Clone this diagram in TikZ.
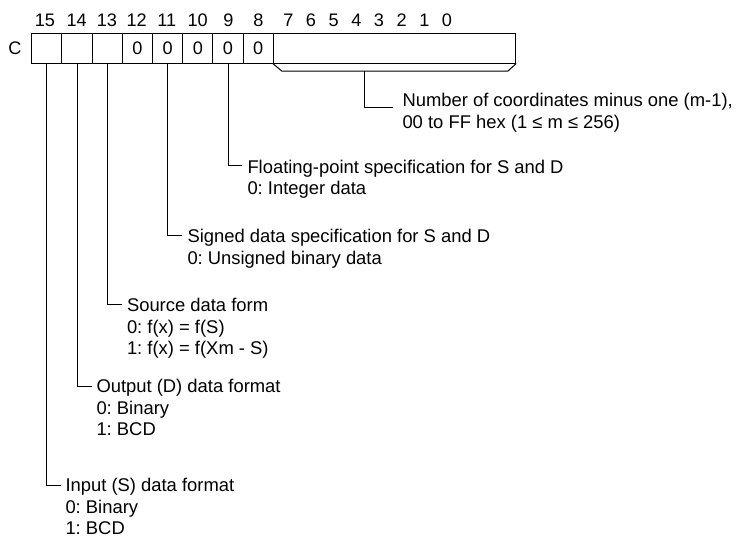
\documentclass[tikz,border=0pt]{standalone}
\usepackage{fontspec}
\setmainfont{Liberation Sans}
\usetikzlibrary{positioning}
\frenchspacing

\begin{document}
\begin{tikzpicture}[x=0.75pt, y=-0.75pt, line width=0.75pt,
  cell/.style={draw, minimum width=22.65pt, minimum height=22.5pt, inner sep=0pt, font=\fontsize{13.6}{16}\selectfont},
  bitno/.style={inner sep=0pt, font=\fontsize{13.6}{16}\selectfont},
  lbl/.style={anchor=base west, inner sep=0pt, align=left, font=\fontsize{13.8}{16.1}\selectfont}]
  \useasboundingbox (0,0) rectangle (738,539);
  % register C
  \node[cell] (b15) at (46.8,48) {};
  \node[cell] (b14) at (77.0,48) {};
  \node[cell] (b13) at (107.2,48) {};
  \node[cell] (b12) at (137.4,48) {0};
  \node[cell] (b11) at (167.6,48) {0};
  \node[cell] (b10) at (197.8,48) {0};
  \node[cell] (b9) at (228.0,48) {0};
  \node[cell] (b8) at (258.2,48) {0};
  \node[cell, minimum width=181.8pt] (b70) at (394.5,48) {};
  \node[bitno, left=7pt of b15] (C) {C};
  % bit numbers
  \node[bitno] (n15) at (45.0,20) {15};
  \node[bitno] (n14) at (76.7,20) {14};
  \node[bitno] (n13) at (107.0,20) {13};
  \node[bitno] (n12) at (136.7,20) {12};
  \node[bitno] (n11) at (166.7,20) {11};
  \node[bitno] (n10) at (197.7,20) {10};
  \node[bitno] (n9) at (228.3,20) {9};
  \node[bitno] (n8) at (258.3,20) {8};
  \node[bitno] (n7) at (288.3,20) {7};
  \node[bitno] (n6) at (311.0,20) {6};
  \node[bitno] (n5) at (333.6,20) {5};
  \node[bitno] (n4) at (356.3,20) {4};
  \node[bitno] (n3) at (379.0,20) {3};
  \node[bitno] (n2) at (401.6,20) {2};
  \node[bitno] (n1) at (424.3,20) {1};
  \node[bitno] (n0) at (447.0,20) {0};
  % descriptions (base = last line)
  \node[lbl] (num) at (402,128.1) {Number of coordinates minus one (m-1),\\00 to FF hex (1 ≤ m ≤ 256)};
  \node[lbl] (fp) at (247,194.5) {Floating-point specification for S and D\\0: Integer data};
  \node[lbl] (sgn) at (187,264.1) {Signed data specification for S and D\\0: Unsigned binary data};
  \node[lbl] (src) at (126.5,354.5) {Source data form\\0: f(x) = f(S)\\1: f(x) = f(Xm - S)};
  \node[lbl] (outD) at (96,435.5) {Output (D) data format\\0: Binary\\1: BCD};
  \node[lbl] (inS) at (65,534.5) {Input (S) data format\\0: Binary\\1: BCD};
  % line ends
  \coordinate (brl) at (281.7,71);
  \coordinate (brr) at (508,71);
  \coordinate (brm) at (364.3,71);
  \coordinate (numc) at (393,107);
  \coordinate (fpc) at (242,165);
  \coordinate (sgnc) at (181.5,235);
  \coordinate (srcc) at (121.5,304);
  \coordinate (outc) at (91.5,386);
  \coordinate (inc) at (60.5,485);
  \draw (b70.south west) -- (brl) -- (brr) -- (b70.south east);
  \draw (brm) |- (numc);
  \draw (b9.south) |- (fpc);
  \draw (b11.south) |- (sgnc);
  \draw (b13.south) |- (srcc);
  \draw (b14.south) |- (outc);
  \draw (b15.south) |- (inc);
\end{tikzpicture}
\end{document}
